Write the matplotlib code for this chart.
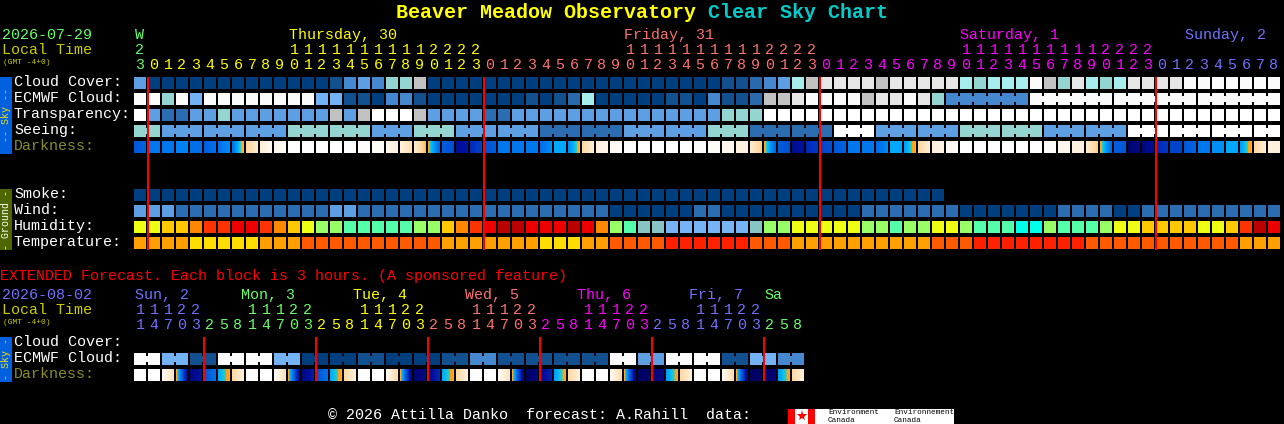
import numpy as np
import matplotlib
matplotlib.use("Agg")
import matplotlib.pyplot as plt
from matplotlib.colors import LinearSegmentedColormap

plt.rcParams['font.family'] = ['Liberation Mono', 'DejaVu Sans Mono']

# values per hourly block (82 blocks)
cloud_cover = [40, 0, 0, 0, 0, 0, 0, 0, 0, 0, 0, 0, 0, 0, 10, 30, 40, 30, 60, 60, 80,
               0, 0, 0, 0, 0, 0, 0, 0, 0, 0, 0, 0, 0, 0, 0, 0, 0, 0, 0, 0, 0,
               10, 10, 20, 30, 40, 70, 80, 90, 90, 90, 90, 80, 90, 90, 90, 90, 90,
               70, 60, 70, 70, 70, 100, 80, 60, 90, 70, 60, 70, 90, 90, 90, 90,
               100, 100, 100, 100, 100, 100, 100]
# ecmwf goes from hourly to 6 hour groups at the end
ecmwf_cloud = [100, 100, 60, 100, 50, 100, 100, 100, 100, 100, 100, 100, 100, 50, 50,
               10, 10, 0, 30, 30, 10, 0, 0, 0, 0, 0, 0, 0, 10, 0, 10, 20, 70,
               0, 0, 0, 0, 0, 10, 10, 0, 30, 10, 10, 20, 80, 80, 90, 100, 100, 100, 100,
               80, 90, 90, 100, 90, 60, 30, 100, 100, 100]
ecmwf_sizes = [1] * 58 + [6] * 4
transparency = [3, 1, 0, 0, 1, 1, 2, 1, 1, 1, 1, 1, 1, 1, 9, 1, 9, 3, 3, 3, 9,
                1, 1, 1, 1, 0, 0, 1, 1, 1, 1, 1, 1, 1, 1, 1, 1, 1, 1, 1, 1, 1,
                2, 2, 2, 3, 3, 3, 3, 3, 3, 3, 3, 3, 3, 3, 3, 3, 3, 3, 3, 3, 3, 3,
                3, 3, 3, 3, 3, 3, 3, 3, 3, 3, 3, 3, 3, 3, 3, 3, 3, 3]
# seeing comes in 3 hour groups
seeing = [2, 1, 1, 1, 2, 2, 1, 2, 1, 1, 0, 0, 1, 1, 2, 0, 0, 3, 1, 1, 2, 2, 1, 1, 3, 3, 3, 3]
seeing_sizes = [2] + [3] * 26 + [2]
smoke = [0] * 58
wind = [2, 2, 2, 1, 1, 1, 1, 1, 1, 1, 1, 1, 1, 1, 2, 2,
        1, 1, 1, 1, 1, 1, 1, 1, 1, 1, 1, 1, 1, 1, 1, 1, 1, 1,
        0, 0, 0, 0, 0, 0, 1, 1, 0, 0, 0, 0, 0, 0, 0, 0, 0, 0,
        1, 1, 1, 1, 1, 1, 1, 0, 0, 0, 0, 0, 0, 0, 1, 1, 1, 1, 0, 0,
        1, 1, 1, 1, 1, 1, 1, 1, 1, 1]
humidity = [60, 60, 70, 70, 75, 80, 80, 90, 90, 80, 75, 70, 60, 50, 50, 40, 40, 40, 40, 40, 50, 50,
            70, 75, 80, 90, 95, 95, 90, 90, 90, 95, 90, 75, 50, 40, 25, 25, 20, 20, 20, 20, 20, 20,
            25, 50, 50, 60, 60, 60, 60, 60,
            50, 50, 40, 50, 50, 60, 60, 50, 40, 40, 40, 30, 30, 50, 40, 40, 40, 50, 60, 60,
            70, 70, 70, 70, 60, 60, 70, 80, 95, 90]
temperature = [18, 18, 18, 18, 14, 14, 14, 14, 14, 18, 18, 18,
               22, 22, 22, 22, 22, 22, 22, 22, 22, 22,
               18, 18, 18, 18, 18, 18, 18, 14, 14, 14, 18, 18, 22, 22, 22, 22,
               27, 27, 27, 27, 27, 27, 22, 22, 22,
               18, 18, 18, 18, 18, 18, 18, 18, 18, 18, 22, 22, 22,
               27, 27, 27, 27, 27, 27, 27, 27,
               22, 22, 22, 22, 22, 22, 22, 22, 22, 22, 22, 18, 18, 18]
# darkness at the left and right edge of each block
darkness_left = [6, 5, 5, 4.8, 5.3, 5.8, 5.2, 5.2, 2, 1.1, .7, 0, 0, 0, 0, 0, .1, .2, .6, 1, 1.2,
                 3, 5.8, 8.3, 7.2, 6.2, 5, 5, 5, 5.3, 4, 4.6, 2, 1, .5, 0, 0, 0, 0, 0, .1, .2, .5, .9, 1.2,
                 2.9, 5.8, 8.4, 7.2, 6.5, 6, 5, 5, 5.4, 4, 4.2, 2, 1, .5, 0, 0, 0, 0, 0, 0, .1, .5, .9, 1.2,
                 2.9, 5.8, 9.5, 9, 7.2, 6.5, 6, 5, 4.5, 4, 4.2, 2, 1]
darkness_right = [5.6, 5, 5, 4.8, 5.3, 5.2, 4.6, 2.6, 1.2, .5, 0, 0, 0, 0, 0, 0, .1, .2, .9, 1.7, 2.5,
                  5.5, 6.2, 7.8, 6.5, 5.8, 5, 5, 5, 4.5, 4, 2.8, 1.1, .6, .2, 0, 0, 0, 0, 0, .1, .2, .5, .9, 2.2,
                  5.5, 6.2, 8, 6.8, 6.2, 5.6, 5, 5, 4.6, 4, 2.8, 1.1, .7, .2, 0, 0, 0, 0, 0, 0, .1, .5, .9, 2.2,
                  5.5, 6, 8.8, 8.2, 6.8, 6.5, 5.6, 5, 4.5, 4, 2.8, 1.1, 1]

# extended forecast, 48 blocks of 3 hours
ext_ecmwf = [100, 50, 10, 100, 100, 50, 0, 0, 10, 0, 0, 10, 30, 10, 10, 10, 10, 100, 40, 100, 100, 10, 50, 30]
ext_dark_left = [0, 0, .4, 2.9, 9, 6.2, 4, 2, 0, 0, .4, 2.9, 9, 6.2, 4, 2, 0, 0, .6, 2.9, 9.5, 8.8, 4, 2,
                 0, 0, .4, 2.9, 10, 8.5, 4.2, 2, 0, 0, .5, 2.9, 10, 9.3, 4.2, 2, 0, 0, .4, 2.9, 10, 9.7, 4.2, 2]
ext_dark_right = [0, 0, 1.6, 8.5, 8, 5.2, 2.9, 1, 0, 0, 1.6, 8.5, 7.5, 5.2, 2.9, 1, 0, 0, 1.9, 9, 8.8, 7.2, 2.9, 1,
                  0, 0, 1.6, 9, 9, 7.5, 2.9, 1, 0, 0, 1.9, 9, 9.5, 8.8, 2.9, 1, 0, 0, 1.9, 9, 9.7, 9.2, 2.9, 1]

# header texts
hour_units = "3012345678901234567890123012345678901234567890123012345678901234567890123012345678"
hour_tens = "2          11111111112222          11111111112222          11111111112222         "[:82]
ext_units = "147032581470325814703258147032581470325814703258"
ext_tens = "11122   11122   11122   11122   11122   11122    "[:48]
day_names = ["W", "Thursday, 30", "Friday, 31", "Saturday, 1", "Sunday, 2"]
day_x = [135, 289, 624, 960, 1185]
ext_days = ["Sun, 2", "Mon, 3", "Tue, 4", "Wed, 5", "Thu, 6", "Fri, 7", "Sa"]
ext_day_x = [135, 241, 353, 465, 577, 689, 764]

GREEN, YELLOW, SALMON, MAGENTA, PERI = '#66FF66', '#FFFF00', '#FF7070', '#FF00FF', '#7070FF'
day_colors = [GREEN, YELLOW, SALMON, MAGENTA, PERI]
ext_day_colors = [PERI, GREEN, YELLOW, SALMON, MAGENTA, PERI, GREEN]

cloud_pal = {0: '#003F7F', 10: '#13508F', 20: '#2A69AC', 30: '#4588CF', 40: '#5E9EE3', 50: '#73B3F5',
             60: '#94D5D2', 70: '#A8EDED', 80: '#C2C2C2', 90: '#E6E6E6', 100: '#FBFBFB'}
sky_pal = {0: '#2C6CB0', 1: '#5E9EE3', 2: '#94D5D2', 3: '#FFFFFF', 9: '#C2C2C2'}
wind_pal = {0: '#003F7F', 1: '#2C6CB0', 2: '#5E9EE3'}
hum_pal = {20: '#77B4F5', 25: '#88C4C4', 30: '#00FFE8', 40: '#55FFAA', 50: '#99FF66', 60: '#EEFF14',
           70: '#FFC800', 75: '#FF8800', 80: '#FF3300', 90: '#EE0000', 95: '#BB0000'}
temp_pal = {14: '#FFDD00', 18: '#FF9F00', 22: '#FF5A00', 27: '#FF2000'}
dark_cmap = LinearSegmentedColormap.from_list('dark', [
    (0.0, '#FFFFFF'), (0.1, '#FFF0DC'), (0.2, '#FFD8A0'), (0.28, '#FFA830'), (0.32, '#FFA010'),
    (0.33, '#20D0D0'), (0.4, '#00A8FF'), (0.5, '#0078F0'), (0.6, '#0058D8'), (0.7, '#0030C0'),
    (0.8, '#0010A0'), (0.9, '#000880'), (1.0, '#000060')])

X0, PITCH, BLOCK = 134, 14, 12

fig = plt.figure(figsize=(12.84, 4.24), dpi=100, facecolor='black')
ax = fig.add_axes([0, 0, 1, 1])
ax.set_facecolor('black')
ax.axis('off')


def rect(x, y, w, h, color, **kw):
    ax.bar(x, h, w, y, color=color, align='edge', linewidth=0, **kw)


def draw_row(values, pal, y, sizes=None):
    sizes = sizes if sizes else [1] * len(values)
    i = 0
    for v, n in zip(values, sizes):
        for k in range(n):
            rect(X0 + (i + k) * PITCH, y, BLOCK, BLOCK, pal[v])
            if k < n - 1:
                rect(X0 + (i + k) * PITCH + BLOCK, y + 3, 2, 6, pal[v])
        i += n


def draw_dark(left, right, y):
    for i, (a, b) in enumerate(zip(left, right)):
        x = X0 + i * PITCH
        ax.imshow(np.linspace(a, b, BLOCK)[None, :], extent=(x, x + BLOCK, y + BLOCK, y), cmap=dark_cmap,
                  vmin=0, vmax=10, aspect='auto', interpolation='nearest')


def txt(x, y, s, color='white', size=10.8, **kw):
    ax.text(x, y, s, color=color, fontsize=size, va='center', ha=kw.pop('ha', 'left'), **kw)


# forecast rows
draw_row(cloud_cover, cloud_pal, 77)
draw_row(ecmwf_cloud, cloud_pal, 93, ecmwf_sizes)
draw_row(transparency, sky_pal, 109)
draw_row(seeing, sky_pal, 125, seeing_sizes)
draw_dark(darkness_left, darkness_right, 141)
draw_row(smoke, cloud_pal, 189)
draw_row(wind, wind_pal, 205)
draw_row(humidity, hum_pal, 221)
draw_row(temperature, temp_pal, 237)

draw_row(ext_ecmwf, cloud_pal, 353, [2] * 24)
draw_dark(ext_dark_left, ext_dark_right, 369)

# midnight marks
for c in [1, 25, 49, 73]:
    rect(X0 + c * PITCH - 1, 77, 2, 173, '#FF0000', zorder=5)
for c in [5, 13, 21, 29, 37, 45]:
    rect(X0 + c * PITCH - 1, 337, 2, 44, '#FF0000', zorder=5)

# side tabs
rect(0, 77, 12, 77, '#0060E0')
rect(0, 189, 12, 61, '#4D6600')
rect(0, 337, 12, 45, '#0060E0')
txt(6, 115.5, "-- Sky --", '#FFE000', 7.2, rotation=90, ha='center')
txt(6, 219.5, "- Ground -", 'white', 7.2, rotation=90, ha='center')
txt(6, 359.5, "- Sky -", '#FFE000', 7.2, rotation=90, ha='center')

# titles
ax.text(396, 12, "Beaver Meadow Observatory", color='#FFFF00', fontsize=14.4, fontweight='bold', va='center')
ax.text(708, 12, "Clear Sky Chart", color='#00CCCC', fontsize=14.4, fontweight='bold', va='center')

# left labels
txt(2, 35, "2026-07-29", GREEN)
txt(2, 50, "Local Time", '#CCCC00')
txt(3, 62, "(GMT -4+0)", '#CCCC00', 5.7)
for y, s in zip([82, 98, 114, 130], ["Cloud Cover:", "ECMWF Cloud:", "Transparency:", "Seeing:"]):
    txt(14, y, s)
txt(14, 146, "Darkness:", '#8C8C28')
for y, s in zip([194, 210, 226, 242], ["Smoke:", "Wind:", "Humidity:", "Temperature:"]):
    txt(14, y, s)

# day names and hour digits
for x, s, c in zip(day_x, day_names, day_colors):
    txt(x, 35, s, c)
for i, (t, u) in enumerate(zip(hour_tens, hour_units)):
    col = GREEN if i == 0 else day_colors[(i - 1) // 24 + 1]
    xc = X0 + i * PITCH + 6
    if t != ' ':
        txt(xc, 50, t, col, ha='center')
    txt(xc, 65, u, col, ha='center')

# extended block
txt(0, 276, "EXTENDED Forecast. Each block is 3 hours. (A sponsored feature)", '#FF0000')
txt(2, 295, "2026-08-02", PERI)
txt(2, 310, "Local Time", '#CCCC00')
txt(3, 322, "(GMT -4+0)", '#CCCC00', 5.7)
txt(14, 342, "Cloud Cover:")
txt(14, 358, "ECMWF Cloud:")
txt(14, 374, "Darkness:", '#8C8C28')
for x, s, c in zip(ext_day_x, ext_days, ext_day_colors):
    txt(x, 295, s, c)
for i, (t, u) in enumerate(zip(ext_tens, ext_units)):
    col = ext_day_colors[(i + 3) // 8]
    xc = X0 + i * PITCH + 6
    if t != ' ':
        txt(xc, 310, t, col, ha='center')
    txt(xc, 325, u, col, ha='center')

# footer and logo
txt(328, 415, "\u00a9 2026 Attilla Danko  forecast: A.Rahill  data:")
rect(788, 409, 166, 15, 'white')
rect(788, 409, 7, 15, '#FF0000')
rect(808, 409, 7, 15, '#FF0000')
ax.plot([801.5], [416], marker='*', color='#FF0000', markersize=8, markeredgewidth=0)
for x, s in [(828, "Environment"), (894, "Environnement")]:
    ax.text(x, 412.5, s, color='black', fontsize=5.5, va='center')
    ax.text(x, 420, "Canada", color='black', fontsize=5.5, va='center')

ax.set_xlim(0, 1284)
ax.set_ylim(424, 0)
fig.savefig('out.png', dpi=100, facecolor='black')
